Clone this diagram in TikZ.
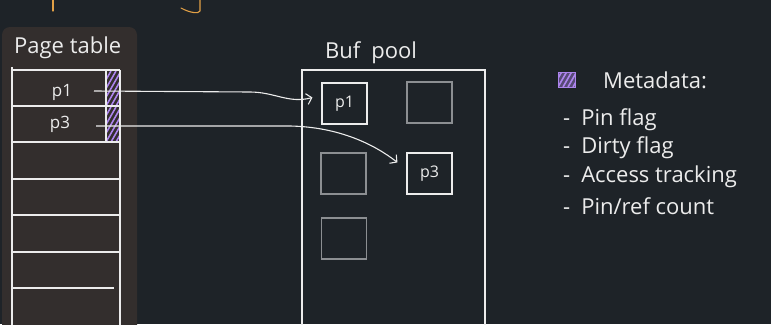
\documentclass[tikz,border=0pt]{standalone}
\usepackage{fontspec}
\setmainfont{Open Sans}
\usepackage{tikz}
\usetikzlibrary{calc, arrows.meta}
\definecolor{board}{RGB}{30,35,40}
\definecolor{panel}{RGB}{51,46,45}
\definecolor{chalkwhite}{RGB}{236,236,236}
\definecolor{chalkgray}{RGB}{140,143,146}
\definecolor{metapurple}{RGB}{172,132,236}
\definecolor{inkorange}{RGB}{226,160,70}
% purple hatched box: x1, y1, x2, y2
\newcommand{\hatchbox}[4]{%
	\begin{scope}
		\clip (#1,#2) rectangle (#3,#4);
		\foreach \d in {-40,-35,...,40}
			\draw[metapurple, line width=1.6pt] (#1+\d,#4) -- (#1+\d+20,#4-35);
	\end{scope}}

\begin{document}
\begin{tikzpicture}[
	x=1pt, y=-1pt,
	chalk/.style={draw=chalkwhite, line width=1.1pt},
	slot/.style={draw=chalkwhite, line width=1.1pt, minimum width=45pt, minimum height=41pt, inner sep=0pt, text=chalkwhite, font=\fontsize{16}{18}\selectfont},
	freeslot/.style={slot, draw=chalkgray},
	arr/.style={chalk, -{Straight Barb[length=5pt, width=11pt]}},
	hand/.style={text=chalkwhite, font=\fontsize{22}{24}\selectfont, inner sep=0pt, anchor=west},
	cell/.style={text=chalkwhite, font=\fontsize{17}{19}\selectfont, inner sep=0pt}
	]
	
	\fill[board] (0,0) rectangle (771,324);
	\useasboundingbox (0,0) rectangle (771,324);
	\clip (0,0) rectangle (771,324);
	
	% bits of the title above
	\draw[inkorange, line width=1.1pt, line cap=round] (53,0) -- (53,11);
	\draw[inkorange, line width=1.1pt, line cap=round] (200,0) -- (200,11) .. controls (199,14) and (190,13) .. (181,8);
	
	% Page table
	\fill[panel, rounded corners=8pt] (2,27) rectangle (137,340);
	\node[hand] (pttitle) at (14,48) {Page table};
	\hatchbox{106}{70}{120}{106}
	\hatchbox{106}{106}{120}{142}
	\foreach \y in {70,106,142,179,215,252}
		\draw[chalk] (12,\y) -- (120,\y);
	\draw[chalk] (12,288) -- (114,288);
	\draw[chalk] (12,67) -- (12,330);
	\draw[chalk] (120,70) -- (120,330);
	\draw[chalk] (106,70) -- (106,142);
	\node[cell] (pg1) at (62,92) {p1};
	\node[cell] (pg3) at (60,124) {p3};
	\coordinate (src1) at (94,91);
	\coordinate (src3) at (96,126);
	
	% Buf pool
	\node[hand] (bptitle) at (325,53) {Buf\enspace pool};
	\draw[chalk] (302,70) rectangle (485,330);
	\node[slot] (bp1) at (344.5,103.5) {p1};
	\node[freeslot] (bp2) at (429.5,102.5) {};
	\node[freeslot] (bp4) at (343.5,173.5) {};
	\node[slot] (bp3) at (429.5,173.5) {p3};
	\node[freeslot] (bp5) at (344,238.5) {};
	
	% Arrows
	\draw[arr] (src1) -- (250,92) to[out=0, in=195] ($(bp1.west)+(-9,-6)$);
	\draw[arr] (src3) -- (290,126) .. controls (340,127) and (375,145) .. ($(bp3.north west)+(-9,10)$);
	
	% Legend
	\fill[metapurple!40!board] (558,72) rectangle (575,87);
	\hatchbox{558}{72}{575}{87}
	\draw[metapurple, line width=1pt] (558,72) rectangle (575,87);
	\node[hand] (legend) at (603,80) {Metadata:};
	\node[hand] (it1) at (563,120) {-\enspace Pin flag};
	\node[hand] (it2) at (563,148) {-\enspace Dirty flag};
	\node[hand] (it3) at (563,177) {-\enspace Access tracking};
	\node[hand] (it4) at (563,206) {-\enspace Pin/ref count};
\end{tikzpicture}
\end{document}
